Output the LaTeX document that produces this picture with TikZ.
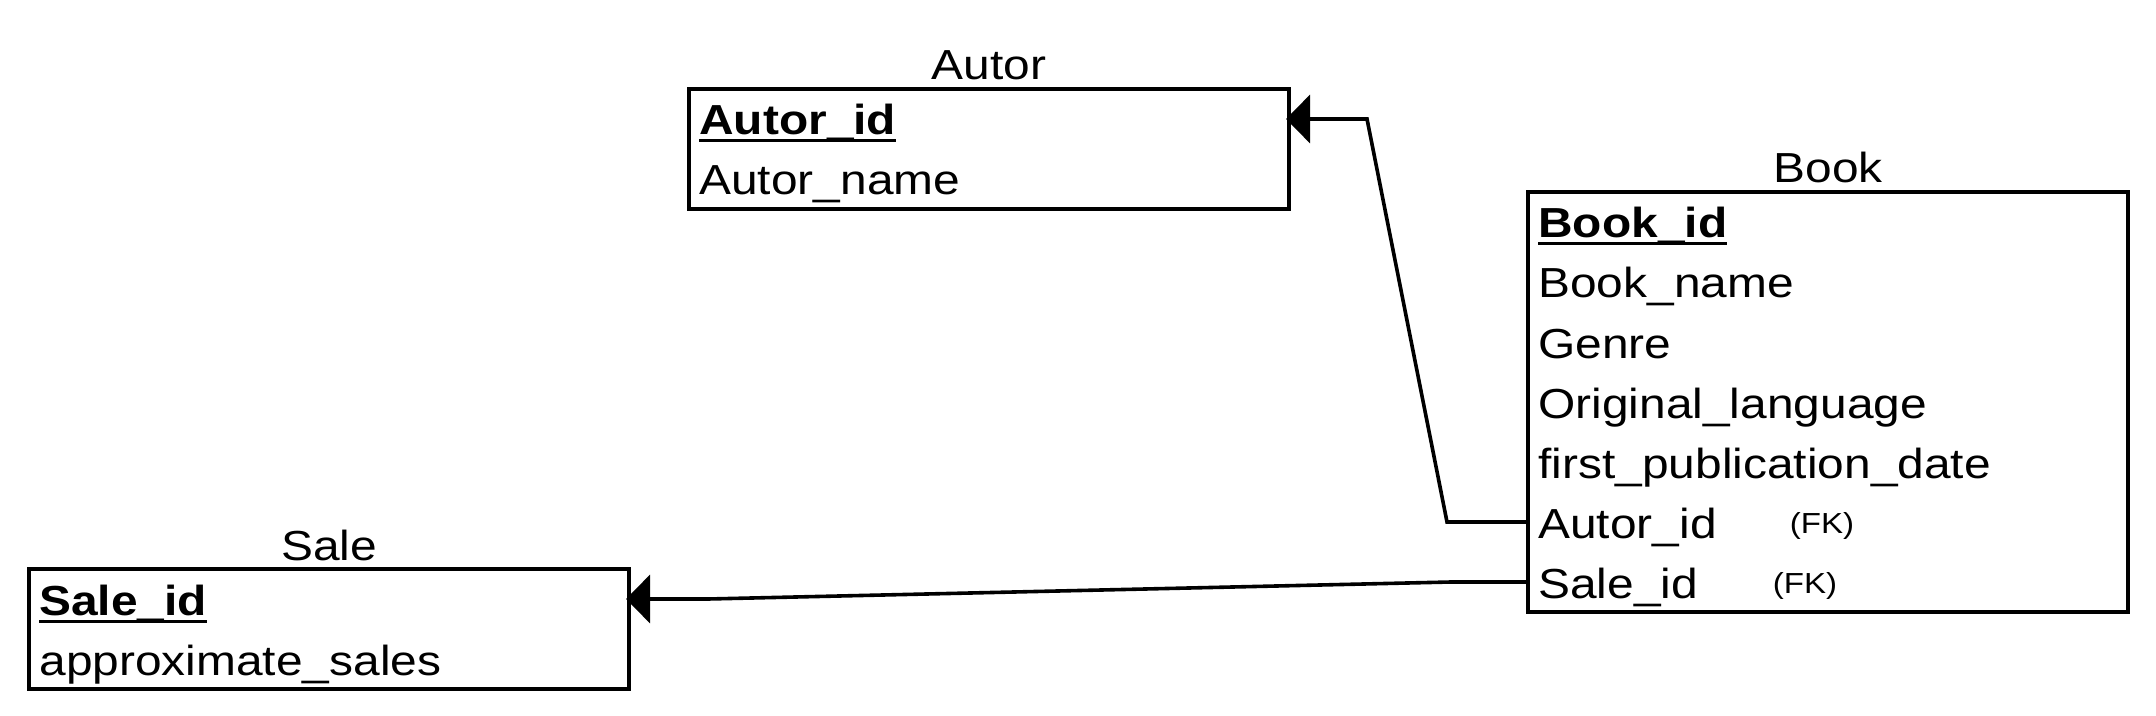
\documentclass[tikz,border=0pt]{standalone}
\usepackage{fontspec}
\setmainfont{Liberation Sans}[FakeStretch=1.14]
\usetikzlibrary{arrows.meta,fit}
\newcommand\pkul[1]{\setbox0\hbox{#1}\rlap{\copy0}\rule[-3.75pt]{\wd0}{1.5pt}}
\begin{document}
\begin{tikzpicture}[x=0.5pt,y=-0.5pt,
  tbl/.style={draw=black, line width=1.9pt, inner sep=0pt, outer sep=0pt},
  rowbox/.style={inner sep=0pt, outer sep=0pt, minimum width=300pt, minimum height=30pt, anchor=north west},
  field/.style={anchor=base west, inner sep=0pt, font=\fontsize{21pt}{25pt}\selectfont},
  keyfield/.style={field, font=\fontsize{21pt}{25pt}\selectfont\bfseries},
  ttl/.style={anchor=base, inner sep=0pt, font=\fontsize{21pt}{25pt}\selectfont},
  fk/.style={anchor=base, inner sep=0pt, font=\fontsize{14.5pt}{17pt}\selectfont},
  conn/.style={line width=1.8pt, line join=miter, shorten >=-1.5pt, -{Triangle[length=12pt,width=24pt]}}
]
\useasboundingbox (0,0) rectangle (2156,716);

% Autor table
\node[rowbox] (a1) at (689,89) {};
\node[rowbox] (a2) at (a1.south west) {};
\node[tbl, fit=(a1)(a2)] (autor) {};
\node[ttl] (autorT) at ([yshift=4.5pt]autor.north) {Autor};
\node[keyfield] (a1t) at ([xshift=5pt,yshift=-8pt]a1.west) {\pkul{Autor\_id}};
\node[field] (a2t) at ([xshift=5pt,yshift=-8pt]a2.west) {Autor\_name};

% Book table
\node[rowbox] (b1) at (1528,192) {};
\node[rowbox] (b2) at (b1.south west) {};
\node[rowbox] (b3) at (b2.south west) {};
\node[rowbox] (b4) at (b3.south west) {};
\node[rowbox] (b5) at (b4.south west) {};
\node[rowbox] (b6) at (b5.south west) {};
\node[rowbox] (b7) at (b6.south west) {};
\node[tbl, fit=(b1)(b7)] (book) {};
\node[ttl] (bookT) at ([yshift=4.5pt]book.north) {Book};
\node[keyfield] (b1t) at ([xshift=5pt,yshift=-8pt]b1.west) {\pkul{Book\_id}};
\node[field] (b2t) at ([xshift=5pt,yshift=-8pt]b2.west) {Book\_name};
\node[field] (b3t) at ([xshift=5pt,yshift=-8pt]b3.west) {Genre};
\node[field] (b4t) at ([xshift=5pt,yshift=-8pt]b4.west) {Original\_language};
\node[field] (b5t) at ([xshift=5pt,yshift=-8pt]b5.west) {first\_publication\_date};
\node[field] (b6t) at ([xshift=5pt,yshift=-8pt]b6.west) {Autor\_id};
\node[field] (b7t) at ([xshift=5pt,yshift=-8pt]b7.west) {Sale\_id};
\node[fk] (fk1) at (1822,533) {(FK)};
\node[fk] (fk2) at (1805,593) {(FK)};

% Sale table
\node[rowbox] (s1) at (29,569) {};
\node[rowbox] (s2) at (s1.south west) {};
\node[tbl, fit=(s1)(s2)] (sale) {};
\node[ttl] (saleT) at ([yshift=4.5pt]sale.north) {Sale};
\node[keyfield] (s1t) at ([xshift=5pt,yshift=-8pt]s1.west) {\pkul{Sale\_id}};
\node[field] (s2t) at ([xshift=5pt,yshift=-8pt]s2.west) {approximate\_sales};

% connectors
\draw[conn] (b6.west) -- ([xshift=-40.5pt]b6.west) -- ([xshift=39pt]a1.east) -- (a1.east);
\draw[conn] (b7.west) -- ([xshift=-38.5pt]b7.west) -- ([xshift=39.5pt]s1.east) -- (s1.east);
\end{tikzpicture}
\end{document}
